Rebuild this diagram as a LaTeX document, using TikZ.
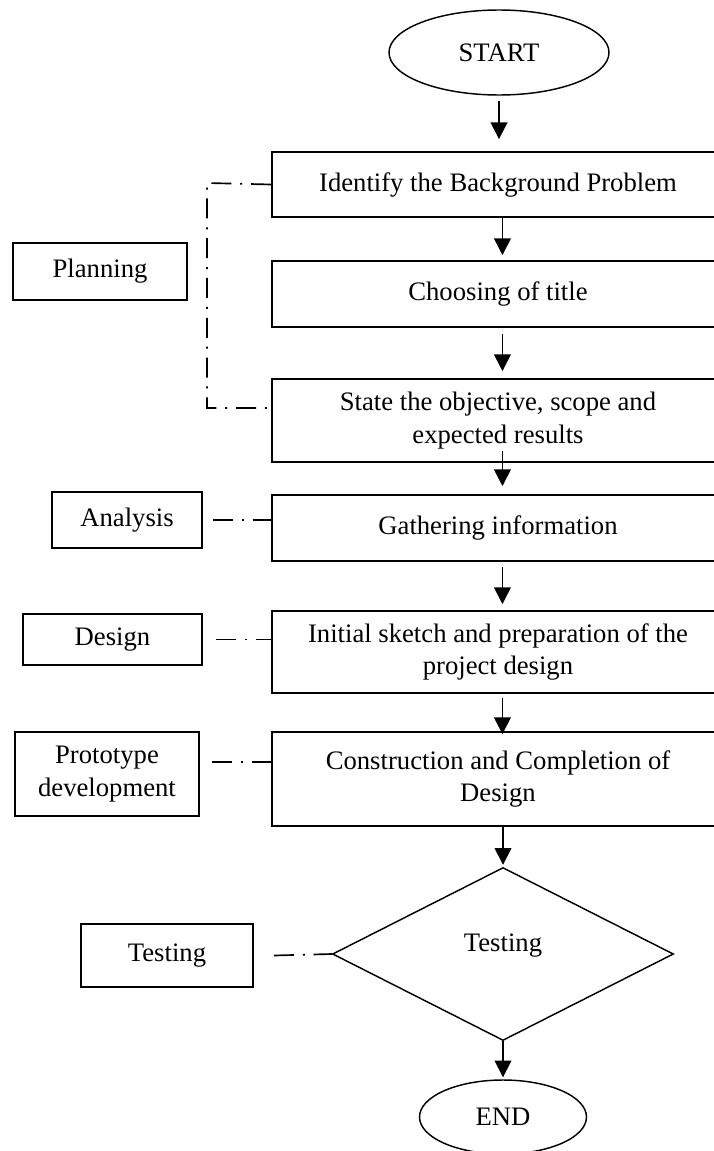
\documentclass[tikz,border=0pt]{standalone}
\usepackage{fontspec}
\setmainfont{Liberation Serif}
\usetikzlibrary{shapes.geometric,arrows.meta,calc}
\begin{document}
\begin{tikzpicture}[x=0.45pt,y=-0.45pt,
 txt/.style={font=\fontsize{12}{14.7}\selectfont, align=center, inner sep=0pt},
 mainbox/.style={txt, draw, line width=0.8pt, minimum width=203.4pt},
 sidebox/.style={txt, draw, line width=0.8pt},
 term/.style={txt, draw, ellipse, line width=0.65pt},
 decision/.style={txt, draw, diamond, line width=0.65pt},
 arr/.style={line width=0.75pt, -{Triangle[length=7.5pt,width=7.5pt]}},
 dd/.style={line width=0.75pt, dash pattern=on 9pt off 4pt on 0.9pt off 4pt}]
\useasboundingbox (0,0) rectangle (713,1151);

% main column
\node[term, minimum width=99pt, minimum height=38.25pt] (start) at (499,52.5) {START};
\node[mainbox, minimum height=29.25pt] (b1) at (498,184.5) {Identify the Background Problem};
\node[mainbox, minimum height=29.7pt] (b2) at (498,294) {Choosing of title};
\node[mainbox, minimum height=37.35pt] (b3) at (498,420.5) {State the objective, scope and\\expected results};
\node[mainbox, minimum height=29.7pt] (b4) at (498,528) {Gathering information};
\node[mainbox, minimum height=36.9pt] (b5) at (498,652) {Initial sketch and preparation of the\\project design};
\node[mainbox, minimum height=42.3pt] (b6) at (498,779) {Construction and Completion of\\Design};
\node[decision, minimum width=153.45pt, minimum height=77.85pt, text depth=10pt] (test) at (503,954) {Testing};
\node[term, minimum width=75.15pt, minimum height=33.3pt] (end) at (503,1117) {END};

% side boxes
\node[sidebox, minimum width=78.3pt, minimum height=25.65pt] (plan) at (100,271.5) {Planning};
\node[sidebox, minimum width=67.5pt, minimum height=25.2pt] (ana) at (127,520) {Analysis};
\node[sidebox, minimum width=80.55pt, minimum height=22.95pt] (des) at (112.5,639.5) {Design};
\node[sidebox, minimum width=82.8pt, minimum height=37.8pt] (pro) at (107,774) {Prototype\\development};
\node[sidebox, minimum width=77.4pt, minimum height=28.35pt] (tst) at (167,955.5) {Testing};

% arrows
\draw[arr, shorten <=2.25pt, shorten >=5.4pt] (start.south) -- (start.south |- b1.north);
\draw[arr, shorten >=2.25pt] ([xshift=2pt]b1.south) -- ([xshift=2pt]b2.north);
\draw[arr, shorten <=2.7pt, shorten >=3.15pt] ([xshift=2pt]b2.south) -- ([xshift=2pt]b3.north);
\draw[arr, shorten <=-5.4pt, shorten >=3.6pt] ([xshift=2pt]b3.south) -- ([xshift=2pt]b4.north);
\draw[arr, shorten <=2.25pt, shorten >=2.7pt] ([xshift=2pt]b4.south) -- ([xshift=2pt]b5.north);
\draw[arr, shorten <=1.8pt, shorten >=-1.35pt] ([xshift=2pt]b5.south) -- ([xshift=2pt]b6.north);
\draw[arr, shorten >=0.9pt] (b6.south -| test.north) -- (test.north);
\draw[arr, shorten >=0.9pt] (test.south) -- (end.north);

% dash-dot links
\coordinate (pl1) at (207,183);
\coordinate (pl2) at (207,408);
\draw[dd] (b1.west) -- (pl1) -- (pl2) -- (pl2 -| b3.west);
\draw[dd] ([xshift=4.5pt]ana.east) -- (ana.east -| b4.west);
\draw[dd] ([xshift=5.85pt]des.east) -- (des.east -| b5.west);
\coordinate (proc) at ([xshift=5.4pt,yshift=5.4pt]pro.east);
\draw[dd] (proc) -- (proc -| b6.west);
\draw[dd] ([xshift=9pt]tst.east) -- (test.west);
\end{tikzpicture}
\end{document}
